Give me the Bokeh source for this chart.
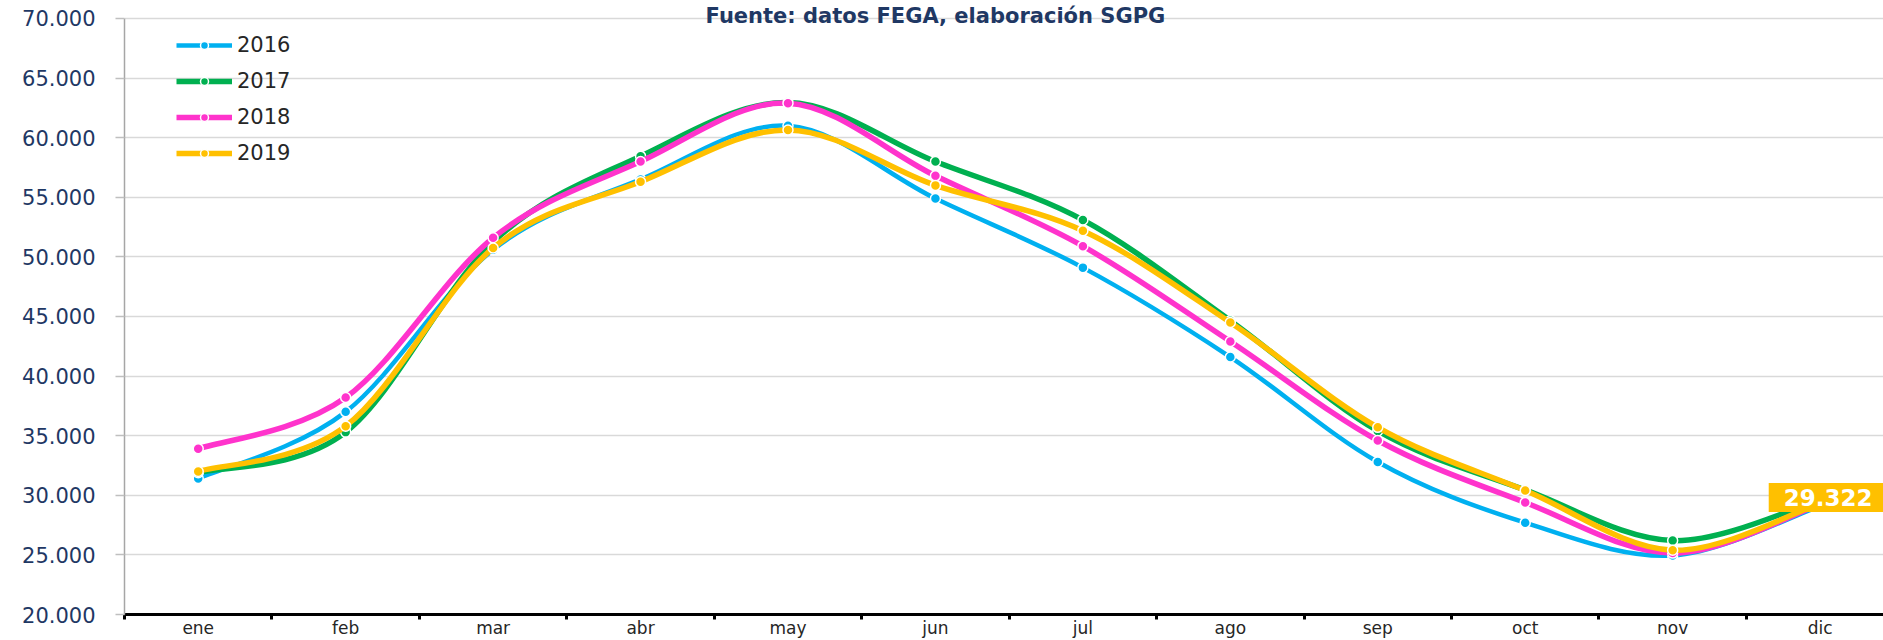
from bokeh.plotting import figure
from bokeh.models import Range1d, FixedTicker, Legend, LegendItem, Label
from bokeh.embed import file_html
from bokeh.resources import INLINE

months = ["ene", "feb", "mar", "abr", "may", "jun", "jul", "ago", "sep", "oct", "nov", "dic"]
years = ["2016", "2017", "2018", "2019"]
v2016 = [31400, 37000, 50600, 56500, 61000, 54900, 49100, 41600, 32800, 27700, 24950, 29100]
v2017 = [31900, 35300, 51250, 58450, 62950, 58000, 53100, 44650, 35400, 30450, 26200, 29600]
v2018 = [33900, 38200, 51600, 58000, 62900, 56800, 50900, 42900, 34600, 29400, 25150, 29250]
v2019 = [32000, 35800, 50750, 56300, 60650, 56000, 52200, 44500, 35700, 30400, 25400, 29322]
series = [v2016, v2017, v2018, v2019]
colors = ["#00B0F0", "#00B050", "#FF33CC", "#FFC000"]
widths = [4.5, 5.5, 5.5, 5.5]
y_ticks = [20000, 25000, 30000, 35000, 40000, 45000, 50000, 55000, 60000, 65000, 70000]
y_tick_labels = ["20.000", "25.000", "30.000", "35.000", "40.000", "45.000",
                 "50.000", "55.000", "60.000", "65.000", "70.000"]
last_label = "29.322"
subtitle = "Fuente: datos FEGA, elaboración SGPG"

FONT = "DejaVu Sans"
NAVY = "#1F3864"

xs = list(range(len(months)))

# the frame reaches the top of the canvas so the subtitle (which overlaps the
# 70.000 grid line) is not clipped; the axis itself is bounded to 20.000-70.000
p = figure(width=1883, height=640, output_backend="svg", toolbar_location=None,
           x_range=Range1d(-0.5, 11.43), y_range=Range1d(20000, 71510),
           min_border_left=124, min_border_right=0, min_border_top=0, min_border_bottom=0)
p.outline_line_color = None
p.background_fill_color = "white"
p.border_fill_color = "white"
p.title.visible = False

# x axis: labels at category centres, tick marks at boundaries
xt = FixedTicker(ticks=xs, minor_ticks=[i - 0.5 for i in range(len(months) + 1)])
p.xaxis.ticker = xt
p.xaxis.major_label_overrides = {i: m for i, m in enumerate(months)}
p.xaxis.major_tick_in = 0
p.xaxis.major_tick_out = 0
p.xaxis.minor_tick_in = 0
p.xaxis.minor_tick_out = 5
p.xaxis.minor_tick_line_color = "black"
p.xaxis.minor_tick_line_width = 3
p.xaxis.axis_line_color = "black"
p.xaxis.axis_line_width = 3
p.xaxis.major_label_standoff = -2
p.xaxis.major_label_text_font = FONT
p.xaxis.major_label_text_font_size = "17px"
p.xaxis.major_label_text_color = "#262626"
p.xgrid.visible = False

# y axis
yt = FixedTicker(ticks=y_ticks, minor_ticks=[])
p.yaxis.ticker = yt
p.yaxis.bounds = (y_ticks[0], y_ticks[-1])
p.ygrid.ticker = yt
p.yaxis.major_label_overrides = {t: l for t, l in zip(y_ticks, y_tick_labels)}
p.yaxis.axis_line_color = "#A6A6A6"
p.yaxis.axis_line_width = 1.5
p.yaxis.major_tick_in = 0
p.yaxis.major_tick_out = 9
p.yaxis.major_tick_line_color = "#BFBFBF"
p.yaxis.major_tick_line_width = 1.5
p.yaxis.minor_tick_line_color = None
p.yaxis.major_label_standoff = 20
p.yaxis.major_label_text_font = FONT
p.yaxis.major_label_text_font_size = "21px"
p.yaxis.major_label_text_color = NAVY
p.ygrid.grid_line_color = "#D9D9D9"
p.ygrid.grid_line_width = 1.5


def bezier_parts(xv, yv):
    n = len(xv)
    out = dict(x0=[], y0=[], x1=[], y1=[], cx0=[], cy0=[], cx1=[], cy1=[])
    for i in range(n - 1):
        xm, ym = (xv[i - 1], yv[i - 1]) if i > 0 else (xv[i], yv[i])
        xp, yp = (xv[i + 2], yv[i + 2]) if i + 2 < n else (xv[i + 1], yv[i + 1])
        out["x0"].append(xv[i]); out["y0"].append(yv[i])
        out["x1"].append(xv[i + 1]); out["y1"].append(yv[i + 1])
        out["cx0"].append(xv[i] + (xv[i + 1] - xm) / 6.0)
        out["cy0"].append(yv[i] + (yv[i + 1] - ym) / 6.0)
        out["cx1"].append(xv[i + 1] - (xp - xv[i]) / 6.0)
        out["cy1"].append(yv[i + 1] - (yp - yv[i]) / 6.0)
    return out


items = []
for name, vals, col, lw in zip(years, series, colors, widths):
    bp = bezier_parts(xs, vals)
    lr = p.bezier(line_color=col, line_width=lw, **bp)
    sr = p.scatter(xs, vals, size=10, marker="circle", fill_color=col,
                   line_color="white", line_width=1.5)
    items.append(LegendItem(label=name, renderers=[lr, sr]))

legend = Legend(items=items, location=(52, 449), orientation="vertical",
                glyph_width=56, glyph_height=20, label_height=20, spacing=12,
                padding=0, margin=0, label_standoff=5,
                label_text_font=FONT, label_text_font_size="21px",
                label_text_color="#262626",
                border_line_alpha=0, background_fill_alpha=0)
p.add_layout(legend)

p.add_layout(Label(x=5.0, y=y_ticks[-1], text=subtitle, text_align="center",
                   text_baseline="alphabetic", y_offset=2,
                   text_font=FONT, text_font_style="bold", text_font_size="21px",
                   text_color=NAVY))

p.add_layout(Label(x=11, y=series[3][-1], text=last_label, text_align="center",
                   text_baseline="middle", x_offset=8, y_offset=6,
                   text_font=FONT, text_font_style="bold", text_font_size="23px",
                   text_color="white", background_fill_color="#FFC000",
                   padding=dict(left=15, right=15, top=6, bottom=6)))

open("out.html", "w").write(file_html(p, INLINE))
